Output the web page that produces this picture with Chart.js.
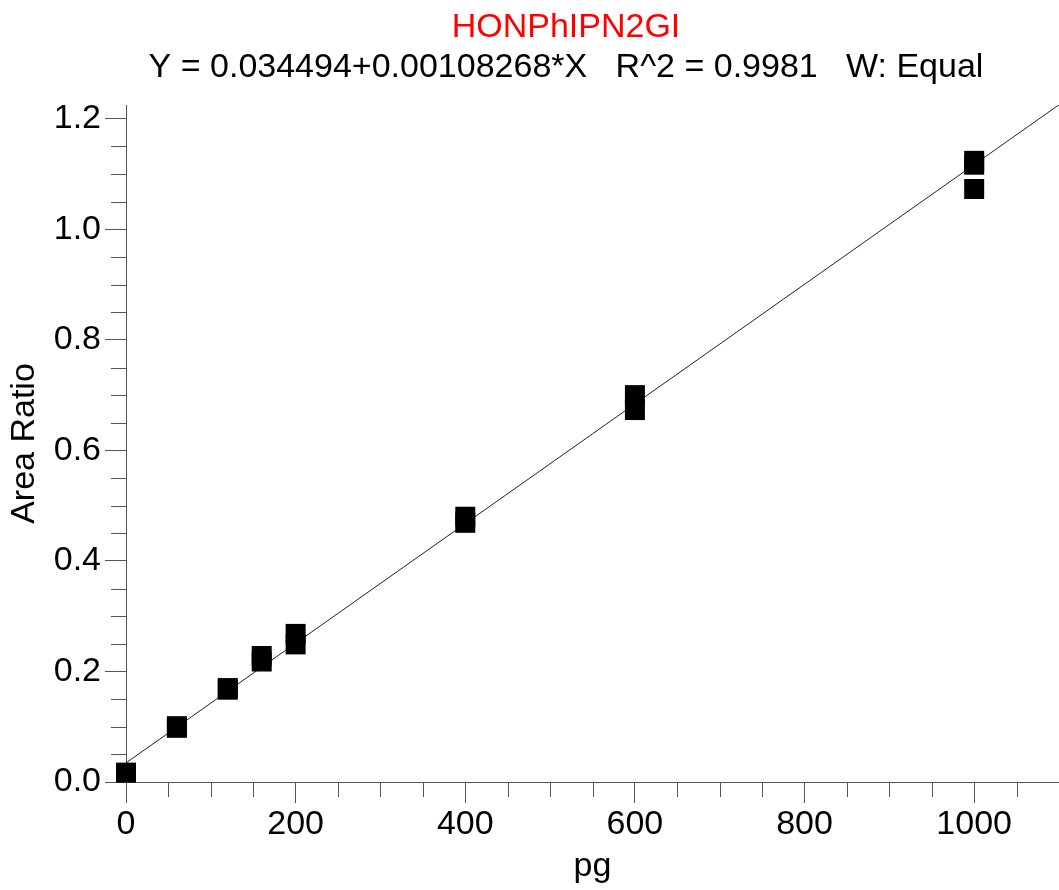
<!DOCTYPE html>
<html>
<head>
<meta charset="utf-8">
<script src="https://cdn.jsdelivr.net/npm/chart.js@4.4.0/dist/chart.umd.min.js"></script>
<style>
  html, body { margin: 0; padding: 0; background: #fff; overflow: hidden; }
  #wrap { width: 1059px; height: 890px; position: relative; }
  #calChart { display: block; }
</style>
</head>
<body>
<div id="wrap"><canvas id="calChart"></canvas></div>
<script>
const compoundName = 'HONPhIPN2GI';
const fitText = 'Y = 0.034494+0.00108268*X   R^2 = 0.9981   W: Equal';
const xTitle = 'pg';
const yTitle = 'Area Ratio';

// calibration standards
const amountPg = [0, 60, 60, 120, 120, 160, 160, 200, 200, 400, 400, 600, 600, 1000, 1000, 1000];
const areaRatio = [0.017, 0.101, 0.098, 0.170, 0.167, 0.228, 0.218, 0.268, 0.249, 0.480, 0.469, 0.700, 0.673, 1.124, 1.117, 1.073];

// fitted line end points
const fitX = [0, 1100];
const fitY = [0.0345, 1.2254];

const xMin = 0, xMax = 1100, xStep = 50, xLabelEvery = 200;
const yMin = 0, yMax = 1.225, yStep = 0.05, yLabelEvery = 0.2;

const fontFamily = "'Liberation Sans', Arial, sans-serif";
const fontSize = 34;
const axisColor = '#555';

function isMajor(value, every) {
    const r = value / every;
    return Math.abs(r - Math.round(r)) < 1e-6;
}

// draws the shorter minor tick marks
const minorTicks = {
    id: 'minorTicks',
    afterDraw(chart) {
        const ctx = chart.ctx;
        const xs = chart.scales.x, ys = chart.scales.y;
        ctx.save();
        ctx.strokeStyle = axisColor;
        ctx.lineWidth = 1;
        ctx.beginPath();
        xs.ticks.forEach(t => {
            if (isMajor(t.value, xLabelEvery)) return;
            const px = Math.round(xs.getPixelForValue(t.value)) + 0.5;
            ctx.moveTo(px, xs.top);
            ctx.lineTo(px, xs.top + 15);
        });
        ys.ticks.forEach(t => {
            if (isMajor(t.value, yLabelEvery)) return;
            const py = Math.round(ys.getPixelForValue(t.value)) + 0.5;
            ctx.moveTo(ys.right, py);
            ctx.lineTo(ys.right - 15, py);
        });
        ctx.stroke();
        ctx.restore();
    }
};

// title lines, centred a bit right of the canvas centre like the original
const headerText = {
    id: 'headerText',
    afterDraw(chart) {
        const ctx = chart.ctx;
        ctx.save();
        ctx.textAlign = 'center';
        ctx.textBaseline = 'alphabetic';
        ctx.font = `${fontSize}px ${fontFamily}`;
        ctx.fillStyle = '#ff0000';
        ctx.fillText(compoundName, 566, 37);
        ctx.fillStyle = '#000';
        ctx.fillText(fitText, 566, 77);
        ctx.restore();
    }
};

const tickColor = every => ctx => isMajor(ctx.tick.value, every) ? axisColor : 'rgba(0,0,0,0)';

new Chart(document.getElementById('calChart'), {
    type: 'scatter',
    data: {
        datasets: [
            {
                label: 'Fit',
                type: 'line',
                data: fitX.map((x, i) => ({ x, y: fitY[i] })),
                borderColor: '#222',
                borderWidth: 1,
                pointRadius: 0,
                fill: false,
                order: 2
            },
            {
                label: 'Standards',
                data: amountPg.map((x, i) => ({ x, y: areaRatio[i] })),
                pointStyle: 'rect',
                pointRadius: 14.14,
                pointHoverRadius: 14.14,
                backgroundColor: '#000',
                borderWidth: 0,
                clip: false,
                order: 1
            }
        ]
    },
    options: {
        responsive: true,
        maintainAspectRatio: false,
        animation: false,
        layout: {
            autoPadding: false,
            padding: { top: 105, right: 0, left: 0, bottom: 0 }
        },
        plugins: {
            legend: { display: false },
            tooltip: { enabled: false }
        },
        scales: {
            x: {
                type: 'linear',
                min: xMin,
                max: xMax,
                afterFit(scale) {
                    scale.height = 108;
                    scale.paddingLeft = 0;
                    scale.paddingRight = 0;
                },
                border: { color: axisColor, width: 1 },
                grid: {
                    drawOnChartArea: false,
                    tickLength: 21,
                    tickColor: tickColor(xLabelEvery)
                },
                ticks: {
                    stepSize: xStep,
                    includeBounds: false,
                    autoSkip: false,
                    maxRotation: 0,
                    padding: 1,
                    color: '#000',
                    font: { family: fontFamily, size: fontSize },
                    callback: v => isMajor(v, xLabelEvery) ? String(v) : ''
                },
                title: {
                    display: true,
                    text: xTitle,
                    color: '#000',
                    font: { family: fontFamily, size: fontSize },
                    padding: { top: 0, bottom: 3 }
                }
            },
            y: {
                type: 'linear',
                min: yMin,
                max: yMax,
                afterFit(scale) {
                    scale.width = 126;
                    scale.paddingTop = 0;
                    scale.paddingBottom = 0;
                },
                border: { color: axisColor, width: 1 },
                grid: {
                    drawOnChartArea: false,
                    tickLength: 21,
                    tickColor: tickColor(yLabelEvery)
                },
                ticks: {
                    stepSize: yStep,
                    includeBounds: false,
                    autoSkip: false,
                    padding: 4,
                    color: '#000',
                    font: { family: fontFamily, size: fontSize },
                    callback: v => isMajor(v, yLabelEvery) ? v.toFixed(1) : ''
                },
                title: {
                    display: true,
                    text: yTitle,
                    color: '#000',
                    font: { family: fontFamily, size: fontSize },
                    padding: { top: 4, bottom: 0 }
                }
            }
        }
    },
    plugins: [minorTicks, headerText]
});
</script>
</body>
</html>
